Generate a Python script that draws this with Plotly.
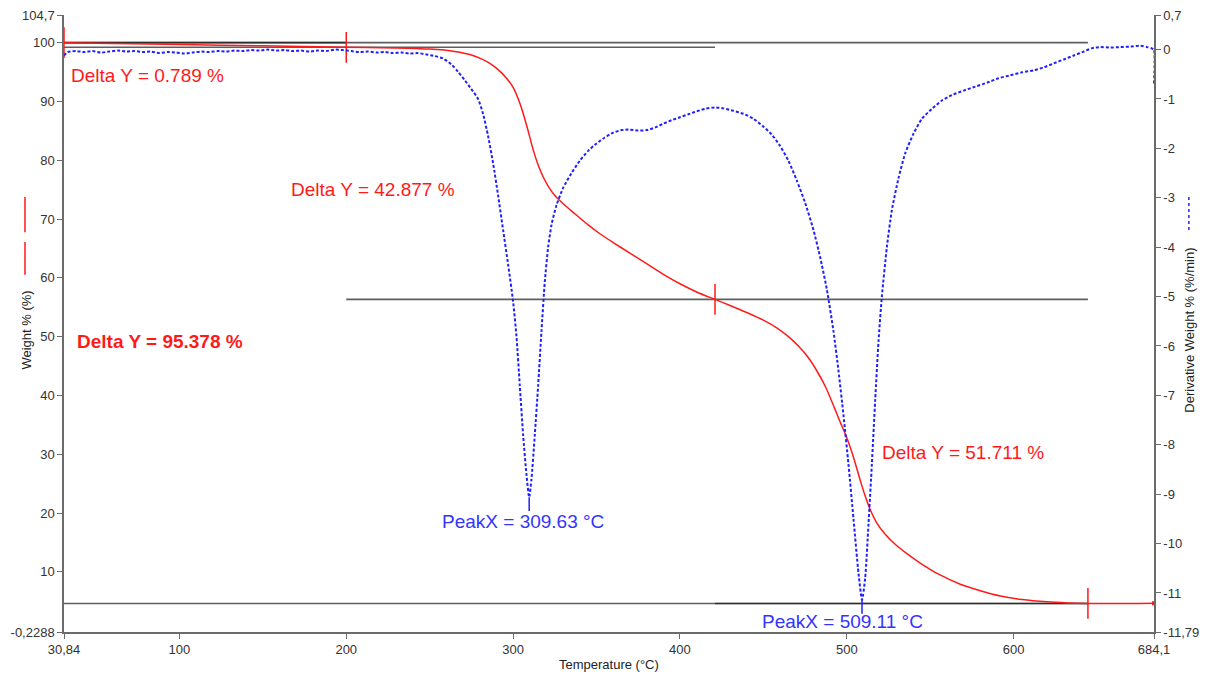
import plotly.graph_objects as go

# --- TGA weight-loss curve (Temperature °C, Weight %) ---
temp_w = [30.84, 60, 100, 150, 200, 230, 250, 265, 275, 282, 288, 293, 297, 300, 303, 306,
          309, 312, 315, 318, 321, 325, 330, 337, 345, 352, 360, 370, 380, 390, 400, 410,
          421, 430, 440, 450, 458, 465, 471, 477, 482, 487, 492, 496, 500, 504, 508, 511, 514,
          518, 523, 529, 536, 544, 555, 568, 580, 592, 605, 620, 632, 644.5, 660, 675, 684.1]
weight = [100.0, 99.85, 99.7, 99.45, 99.211, 99.1, 98.9, 98.5, 97.9, 97.1, 96.1, 94.9, 93.6, 92.4, 90.5, 88.0,
          85.0, 81.8, 79.2, 77.2, 75.6, 74.0, 72.6, 70.9, 69.0, 67.5, 66.0, 64.2, 62.4, 60.6, 59.0, 57.6,
          56.334, 55.3, 54.1, 52.8, 51.5, 50.0, 48.4, 46.4, 44.2, 41.6, 38.3, 35.5, 32.8, 29.5, 25.6, 22.9, 20.6,
          18.3, 16.4, 14.7, 13.1, 11.5, 9.6, 7.9, 6.8, 5.9, 5.3, 4.9, 4.72, 4.623, 4.6, 4.62, 4.65]

# --- DTG derivative curve (Temperature °C, %/min) ---
temp_d = [30.84, 33, 38, 43, 48, 53, 58, 63, 68, 73, 78, 83, 88, 93, 98, 103, 108, 113, 118, 123,
          128, 133, 138, 143, 148, 153, 158, 163, 168, 173, 178, 183, 188, 193, 198, 203, 208, 213,
          218, 223, 228, 233, 238, 243, 248, 253, 258, 263, 267, 271, 275, 279, 282, 285, 288, 291,
          294, 297, 300, 302, 304, 306, 308, 309.63, 311, 313, 315, 317, 319, 321, 323, 326, 330,
          335, 340, 345, 350, 355, 360, 365, 370, 375, 380, 385, 390, 395, 400, 405, 410, 415, 421,
          426, 432, 438, 444, 450, 455, 460, 465, 470, 475, 480, 484, 488, 492, 495, 498, 501, 504,
          507, 509.11, 511, 513, 515, 517, 519, 521, 524, 527, 531, 535, 540, 545, 551, 557, 563,
          570, 577, 584, 591, 598, 605, 612, 618, 624, 630, 636, 642, 647, 652, 658, 664, 670, 676,
          680, 683, 684.1, 684.1]
deriv = [-0.12, -0.05, -0.03, -0.05, -0.03, -0.06, -0.04, -0.02, -0.04, -0.03, -0.05, -0.04, -0.07,
         -0.05, -0.06, -0.08, -0.06, -0.04, -0.05, -0.03, -0.04, -0.02, -0.03, -0.01, -0.02, 0.00,
         -0.02, -0.01, -0.03, -0.02, -0.04, -0.02, -0.03, 0.00, -0.01, -0.03, -0.05, -0.04, -0.06,
         -0.05, -0.07, -0.06, -0.08, -0.07, -0.10, -0.13, -0.18, -0.30, -0.45, -0.62, -0.80, -1.00,
         -1.30, -1.75, -2.30, -2.95, -3.65, -4.35, -5.10, -5.80, -6.80, -7.80, -8.60, -9.06, -8.70,
         -7.80, -6.80, -5.70, -4.70, -4.00, -3.55, -3.15, -2.80, -2.50, -2.25, -2.05, -1.90, -1.78,
         -1.68, -1.63, -1.62, -1.64, -1.63, -1.58, -1.50, -1.43, -1.37, -1.31, -1.25, -1.20, -1.17,
         -1.19, -1.24, -1.30, -1.40, -1.56, -1.72, -1.95, -2.25, -2.65, -3.10, -3.65, -4.20, -4.85,
         -5.70, -6.50, -7.40, -8.40, -9.50, -10.60, -11.14, -10.70, -9.60, -8.40, -7.10, -5.90,
         -5.00, -4.00, -3.25, -2.60, -2.10, -1.70, -1.40, -1.20, -1.03, -0.92, -0.83, -0.75, -0.67,
         -0.58, -0.52, -0.46, -0.42, -0.36, -0.28, -0.20, -0.12, -0.04, 0.03, 0.05, 0.04, 0.05,
         0.06, 0.08, 0.05, 0.02, 0.00, -0.72]

# --- Step analysis ---
step_temps = [30.84, 200, 421, 644.5]
delta_y = [0.789, 42.877, 51.711]
total_delta = 95.378
peak_x = [309.63, 509.11]
peak_y = [-9.06, -11.14]

# tick labels
x_ticks = [30.84, 100, 200, 300, 400, 500, 600, 684.1]
x_ticklabels = ["30,84", "100", "200", "300", "400", "500", "600", "684,1"]
y_ticks = [-0.2288, 10, 20, 30, 40, 50, 60, 70, 80, 90, 100, 104.7]
y_ticklabels = ["-0,2288", "10", "20", "30", "40", "50", "60", "70", "80", "90", "100", "104,7"]
y2_ticks = [-11.79, -11, -10, -9, -8, -7, -6, -5, -4, -3, -2, -1, 0, 0.7]
y2_ticklabels = ["-11,79", "-11", "-10", "-9", "-8", "-7", "-6", "-5", "-4", "-3", "-2", "-1", "0", "0,7"]

RED = "#ff1a1a"
BLUE = "#2020ff"
BLUE_TXT = "#3434ff"
GREY = "#6b6b6b"
FONT = "Liberation Sans, Arial, sans-serif"

# plateau levels derived from the step deltas
levels = [100.0]
for d in delta_y:
    levels.append(round(levels[-1] - d, 3))

fig = go.Figure()

# baseline pairs: each step draws its start & end level across the step span
spans = [(0, 1), (1, 2), (2, 3), (0, 3)]
for a, b in spans:
    for lvl in (levels[a], levels[b]):
        fig.add_trace(go.Scatter(
            x=[step_temps[a], step_temps[b]], y=[lvl, lvl], mode="lines",
            line=dict(color="rgba(25,25,25,0.7)", width=1.6), hoverinfo="skip"))

# weight curve
fig.add_trace(go.Scatter(x=temp_w, y=weight, mode="lines",
                         line=dict(color=RED, width=1.5, shape="spline", smoothing=0.8),
                         hoverinfo="skip"))

# step markers
fig.add_trace(go.Scatter(x=step_temps, y=levels, mode="markers",
                         marker=dict(symbol="line-ns-open", size=22, color=RED,
                                     line=dict(color=RED, width=1.5)),
                         hoverinfo="skip"))
fig.add_trace(go.Scatter(x=[temp_w[-1]], y=[weight[-1]], mode="markers",
                         marker=dict(symbol="square", size=4, color=RED),
                         hoverinfo="skip"))

# derivative curve on the right axis
fig.add_trace(go.Scatter(x=temp_d, y=deriv, mode="lines", yaxis="y2",
                         line=dict(color=BLUE, width=2, dash="3px,2px",
                                   shape="spline", smoothing=0.6),
                         hoverinfo="skip"))

# peak markers
for px, py in zip(peak_x, peak_y):
    fig.add_trace(go.Scatter(x=[px, px], y=[py, py - 0.28], mode="lines", yaxis="y2",
                             line=dict(color=BLUE, width=1.5), hoverinfo="skip"))

annotations = []
def label(text, x, y, color, yref="y", bold=False):
    annotations.append(dict(
        text=f"<b>{text}</b>" if bold else text, x=x, y=y, xref="x", yref=yref,
        xanchor="left", yanchor="middle", showarrow=False,
        font=dict(family=FONT, size=19, color=color)))

label(f"Delta Y = {delta_y[0]:.3f} %", 33.8, 94.4, RED)
label(f"Delta Y = {delta_y[1]:.3f} %", 165.7, 75.0, RED)
label(f"Delta Y = {total_delta:.3f} %", 37.4, 49.2, RED, bold=True)
label(f"Delta Y = {delta_y[2]:.3f} %", 519.9, 30.3, RED)
label(f"PeakX = {peak_x[0]:.2f} °C", 256.2, 18.6, BLUE_TXT)
label(f"PeakX = {peak_x[1]:.2f} °C", 447.9, 1.6, BLUE_TXT)

# axis titles
annotations.append(dict(text="Temperature (°C)", x=0.5, y=-0.052, xref="paper", yref="paper",
                        xanchor="center", yanchor="middle", showarrow=False,
                        font=dict(family=FONT, size=13, color="#222")))
annotations.append(dict(text="Weight % (%)", x=-0.034, y=0.49, xref="paper", yref="paper",
                        xanchor="center", yanchor="middle", showarrow=False, textangle=-90,
                        font=dict(family=FONT, size=13, color="#222")))
annotations.append(dict(text="Derivative Weight % (%/min)", x=1.033, y=0.49, xref="paper",
                        yref="paper", xanchor="center", yanchor="middle", showarrow=False,
                        textangle=-90, font=dict(family=FONT, size=13, color="#222")))

shapes = [
    dict(type="line", xref="paper", yref="paper", x0=-0.0358, x1=-0.0358, y0=0.705, y1=0.648,
         line=dict(color=RED, width=1.5)),
    dict(type="line", xref="paper", yref="paper", x0=-0.0358, x1=-0.0358, y0=0.632, y1=0.579,
         line=dict(color=RED, width=1.5)),
    dict(type="line", xref="paper", yref="paper", x0=1.032, x1=1.032, y0=0.705, y1=0.648,
         line=dict(color=BLUE, width=1.5, dash="dot")),
]

axis_common = dict(showline=True, linecolor=GREY, linewidth=1.5, ticks="outside", ticklen=5,
                   tickwidth=1.2, tickcolor=GREY, showgrid=False, zeroline=False,
                   tickfont=dict(family=FONT, size=13, color="#333"))

fig.update_layout(
    width=1211, height=679,
    margin=dict(l=64, r=57, t=8, b=47),
    paper_bgcolor="white", plot_bgcolor="white",
    showlegend=False,
    xaxis=dict(range=[30.84, 684.1], tickmode="array", tickvals=x_ticks,
               ticktext=x_ticklabels, **axis_common),
    yaxis=dict(range=[-0.2288, 104.7], tickmode="array", tickvals=y_ticks,
               ticktext=y_ticklabels, **axis_common),
    yaxis2=dict(range=[-11.79, 0.7], tickmode="array", tickvals=y2_ticks,
                ticktext=y2_ticklabels, overlaying="y", side="right", **axis_common),
    annotations=annotations,
    shapes=shapes,
)

fig.write_html("out.html", config={"displayModeBar": False})
